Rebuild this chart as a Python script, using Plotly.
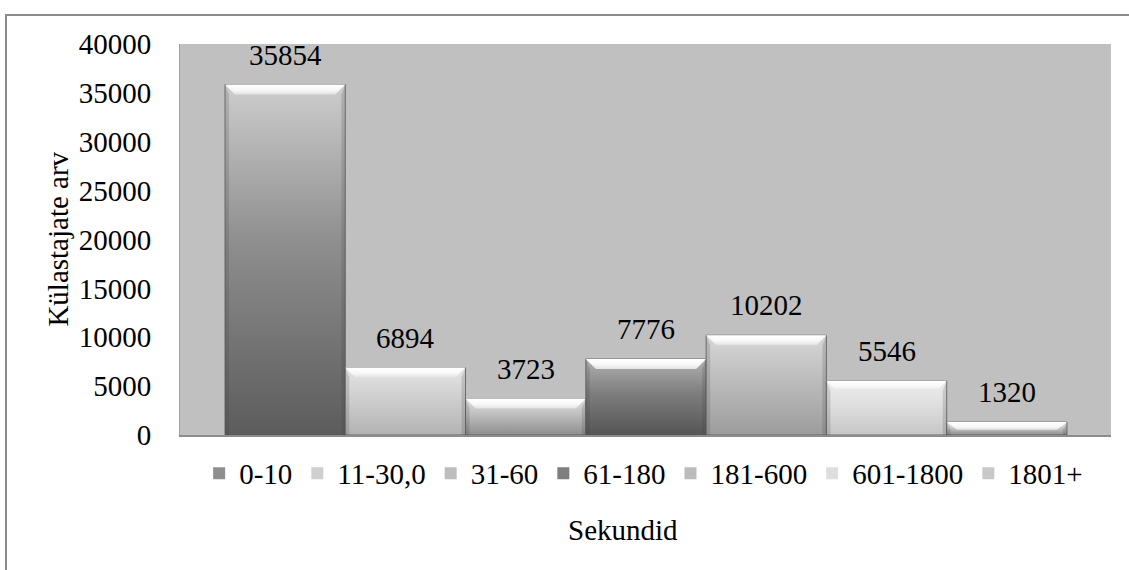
import plotly.graph_objects as go

# Visitor counts by visit duration (seconds)
categories = ["0-10", "11-30,0", "31-60", "61-180", "181-600", "601-1800", "1801+"]
visitors = [35854, 6894, 3723, 7776, 10202, 5546, 1320]

# Per-series shading: (bottom, middle, top) of the vertical gradient
shades = [
    ("#5c5c5c", "#8e8e8e", "#cdcdcd"),
    ("#b2b2b2", "#cfcfcf", "#e4e4e4"),
    ("#8e8e8e", "#bdbdbd", "#dedede"),
    ("#555555", "#7e7e7e", "#b0b0b0"),
    ("#9c9c9c", "#bcbcbc", "#d6d6d6"),
    ("#c6c6c6", "#dedede", "#eeeeee"),
    ("#8a8a8a", "#c8c8c8", "#e6e6e6"),
]

FONT = "Liberation Serif, Times New Roman, serif"
Y_MAX = 40000
BAR_W = 1.0
PLOT_W_PX, PLOT_H_PX = 931, 391
X_RANGE = [-0.874, 6.866]
BEVEL_PX = 10
SIDE_PX = 4

units_per_px_y = Y_MAX / PLOT_H_PX
units_per_px_x = (X_RANGE[1] - X_RANGE[0]) / PLOT_W_PX

fig = go.Figure()

# Bars (one trace per duration class, for the legend)
for i, (name, v) in enumerate(zip(categories, visitors)):
    fig.add_trace(go.Bar(
        x=[i], y=[v], width=BAR_W, name=name,
        marker=dict(color=shades[i][1], line=dict(width=0)),
        hoverinfo="name+y",
    ))

# Gradient body, bevelled top and shaded sides of each bar
for i, v in enumerate(visitors):
    x0, x1 = i - BAR_W / 2, i + BAR_W / 2
    bottom, mid, top = shades[i]
    fig.add_trace(go.Scatter(
        x=[x0, x1, x1, x0, x0], y=[0, 0, v, v, 0],
        mode="lines", fill="toself",
        line=dict(width=1, color="rgba(90,90,90,0.8)"),
        fillgradient=dict(type="vertical",
                          colorscale=[[0, bottom], [0.55, mid], [1, top]]),
        showlegend=False, hoverinfo="skip",
    ))
    by = min(BEVEL_PX * units_per_px_y, v * 0.6)
    bx = BEVEL_PX * units_per_px_x
    sx = SIDE_PX * units_per_px_x
    # left and right shaded edges
    for xs in ([x0, x0 + sx, x0 + sx, x0, x0], [x1, x1 - sx, x1 - sx, x1, x1]):
        fig.add_trace(go.Scatter(
            x=xs, y=[0, 0, v - by, v, 0],
            mode="lines", fill="toself",
            line=dict(width=0, color="rgba(0,0,0,0)"),
            fillcolor="rgba(60,60,60,0.18)",
            showlegend=False, hoverinfo="skip",
        ))
    # bright top bevel
    fig.add_trace(go.Scatter(
        x=[x0, x1, x1 - bx, x0 + bx, x0], y=[v, v, v - by, v - by, v],
        mode="lines", fill="toself",
        line=dict(width=0, color="rgba(0,0,0,0)"),
        fillgradient=dict(type="vertical",
                          colorscale=[[0, "#e2e2e2"], [0.45, "#f8f8f8"],
                                      [1, "#ffffff"]]),
        showlegend=False, hoverinfo="skip",
    ))

# Value labels above the bars
labels = [
    dict(x=i, y=v, xref="x", yref="y", text=str(v), showarrow=False,
         xanchor="center", yanchor="bottom", yshift=12,
         font=dict(family=FONT, size=29, color="black"))
    for i, v in enumerate(visitors)
]

fig.update_layout(
    width=1129, height=570,
    margin=dict(l=180, r=18, t=44, b=135),
    paper_bgcolor="white",
    plot_bgcolor="#c0c0c0",
    barmode="overlay",
    font=dict(family=FONT, size=29, color="black"),
    showlegend=True,
    legend=dict(
        orientation="h", x=0.498, xanchor="center", y=-0.098, yanchor="middle",
        font=dict(family=FONT, size=29, color="black"),
        itemwidth=30, traceorder="normal", bgcolor="rgba(0,0,0,0)",
    ),
    xaxis=dict(
        range=X_RANGE, showticklabels=False, showgrid=False, zeroline=False,
        showline=True, linecolor="#8c8c8c", linewidth=2, ticks="",
        fixedrange=True,
    ),
    yaxis=dict(
        range=[0, Y_MAX], dtick=5000, tickformat="d", showgrid=False,
        zeroline=False, showline=True, linecolor="#a0a0a0", linewidth=1,
        ticks="", ticklabelstandoff=22,
        tickfont=dict(family=FONT, size=29, color="black"),
        fixedrange=True,
    ),
    annotations=labels + [
        dict(text="Külastajate arv", xref="paper", yref="paper",
             x=-0.132, y=0.5, xanchor="center", yanchor="middle",
             textangle=-90, showarrow=False,
             font=dict(family=FONT, size=29, color="black")),
        dict(text="Sekundid", xref="paper", yref="paper",
             x=0.476, y=-0.243, xanchor="center", yanchor="middle",
             showarrow=False,
             font=dict(family=FONT, size=29, color="black")),
    ],
    shapes=[
        dict(type="rect", xref="paper", yref="paper",
             x0=-0.1869, x1=1.06, y0=-0.40, y1=1.0742,
             line=dict(color="#8c8c8c", width=2), fillcolor="rgba(0,0,0,0)",
             layer="below"),
    ],
)

fig.write_html("out.html")
